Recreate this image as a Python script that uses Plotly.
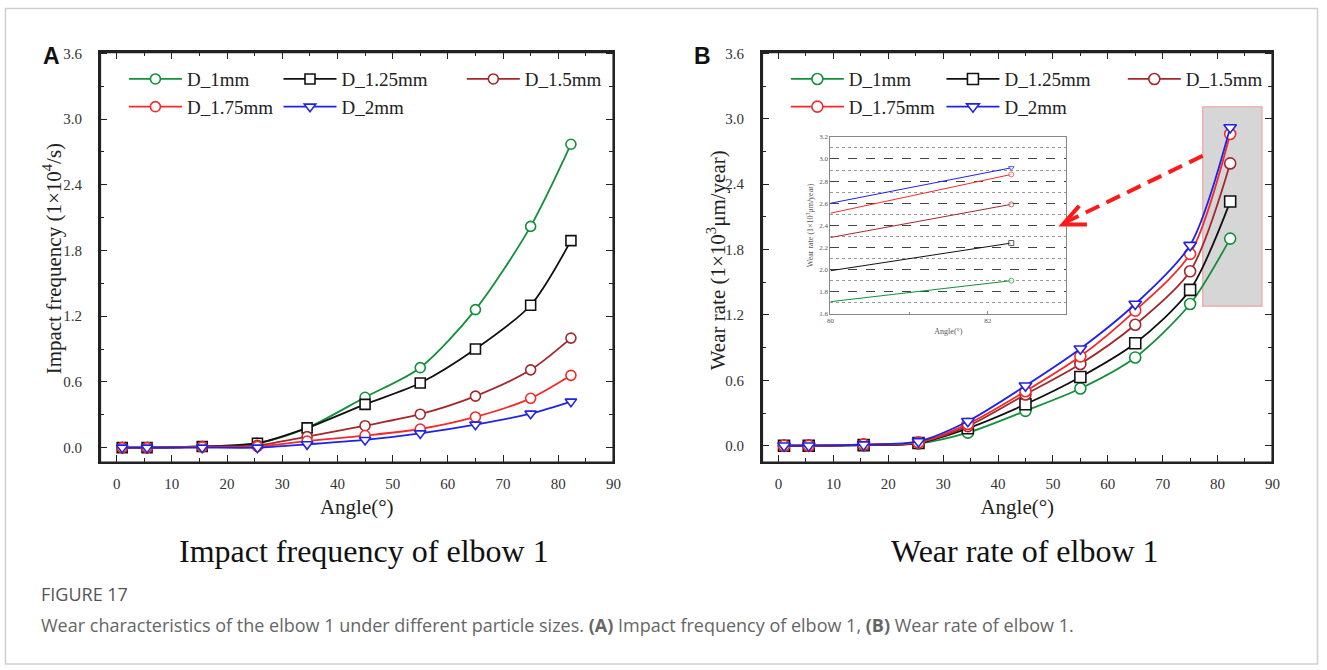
import plotly.graph_objects as go

W, H = 1327, 670

# ---------------- data ----------------
angles = [1, 5.5, 15.5, 25.5, 34.5, 45, 55, 65, 75, 82.3]
series_names = ["D_1mm", "D_1.25mm", "D_1.5mm", "D_1.75mm", "D_2mm"]

impact_d1 = [0, 0, 0.01, 0.04, 0.18, 0.46, 0.73, 1.26, 2.02, 2.77]
impact_d125 = [0, 0, 0.01, 0.04, 0.18, 0.395, 0.59, 0.90, 1.30, 1.89]
impact_d15 = [0, 0, 0.01, 0.02, 0.10, 0.20, 0.305, 0.47, 0.71, 1.00]
impact_d175 = [0, 0, 0.005, 0.01, 0.06, 0.11, 0.17, 0.28, 0.45, 0.66]
impact_d2 = [0, 0, 0, 0.0, 0.03, 0.07, 0.13, 0.21, 0.31, 0.42]

wear_d1 = [0, 0, 0.005, 0.02, 0.12, 0.32, 0.525, 0.81, 1.30, 1.90]
wear_d125 = [0, 0, 0.005, 0.025, 0.16, 0.38, 0.63, 0.94, 1.43, 2.24]
wear_d15 = [0, 0, 0.01, 0.03, 0.18, 0.47, 0.75, 1.11, 1.60, 2.59]
wear_d175 = [0, 0, 0.01, 0.03, 0.20, 0.50, 0.82, 1.24, 1.76, 2.86]
wear_d2 = [0, 0, 0.01, 0.04, 0.225, 0.55, 0.89, 1.30, 1.84, 2.92]

# inset (zoom of the 80-83 degree region of wear rate)
inset_angles = [80, 82.3]
inset_start = [1.71, 1.99, 2.29, 2.51, 2.60]

impact = [impact_d1, impact_d125, impact_d15, impact_d175, impact_d2]
wear = [wear_d1, wear_d125, wear_d15, wear_d175, wear_d2]

# ---------------- styles ----------------
colors = ["#12903a", "#111111", "#a3282c", "#f22a2a", "#1f23e6"]
symbols = ["circle", "square", "circle", "circle", "triangle-down"]
SERIF = "Liberation Serif"
legend_of_A = ["legend", "legend2", "legend3", "legend", "legend2"]
legend_of_B = ["legend4", "legend5", "legend6", "legend4", "legend5"]

fig = go.Figure()

for i, name in enumerate(series_names):
    fig.add_trace(go.Scatter(
        x=angles, y=impact[i], name=name, mode="lines+markers",
        line=dict(color=colors[i], width=1.8, shape="spline", smoothing=0.8),
        marker=dict(symbol=symbols[i], size=10, color="white",
                    line=dict(color=colors[i], width=1.6)),
        xaxis="x", yaxis="y", legend=legend_of_A[i]))

for i, name in enumerate(series_names):
    fig.add_trace(go.Scatter(
        x=angles, y=wear[i], name=name, mode="lines+markers",
        line=dict(color=colors[i], width=1.8, shape="spline", smoothing=0.8),
        marker=dict(symbol=symbols[i], size=11, color="white",
                    line=dict(color=colors[i], width=1.6)),
        xaxis="x2", yaxis="y2", legend=legend_of_B[i]))

for i, name in enumerate(series_names):
    fig.add_trace(go.Scatter(
        x=inset_angles, y=[inset_start[i], wear[i][-1]], name=name,
        mode="lines+markers", showlegend=False,
        line=dict(color=colors[i], width=1),
        marker=dict(symbol=symbols[i], size=[0, 5], color="white",
                    line=dict(color=colors[i], width=1)),
        xaxis="x3", yaxis="y3"))

# ---------------- axes ----------------
def px_x(p):
    return p / W

def px_y(p):
    return 1 - p / H

ax_common = dict(
    showline=True, mirror="all", linecolor="#222", linewidth=2,
    ticks="inside", ticklen=7, tickwidth=1.4, tickcolor="#222",
    showgrid=False, zeroline=False,
    tickfont=dict(family=SERIF, size=15, color="#333"),
)

xdomA = [px_x(97), px_x(615)]
xdomB = [px_x(765), px_x(1280)]
ydom = [px_y(463), px_y(46)]

xa = dict(ax_common, range=[-3, 90], dtick=10, tick0=0,
          minor=dict(dtick=5, ticks="inside", ticklen=4, tickcolor="#222", tickwidth=1.2),
          title=dict(text="Angle(°)", font=dict(family=SERIF, size=21, color="#222"), standoff=8),
          ticklabelstandoff=7)
ya = dict(ax_common, dtick=0.6, tick0=0, tickformat=".1f",
          minor=dict(dtick=0.3, ticks="inside", ticklen=4, tickcolor="#222", tickwidth=1.2),
          ticklabelstandoff=13)

fig.update_layout(
    xaxis=dict(xa, domain=xdomA, anchor="y"),
    yaxis=dict(ya, domain=ydom, anchor="x", range=[-0.135, 3.61]),
    xaxis2=dict(xa, domain=xdomB, anchor="y2"),
    yaxis2=dict(ya, domain=ydom, anchor="x2", range=[-0.153, 3.61]),
    xaxis3=dict(domain=[px_x(834), px_x(1072)], anchor="y3", range=[80, 83],
                dtick=2, tick0=80, showline=True, mirror=True, linecolor="#888",
                linewidth=1, ticks="inside", ticklen=3, tickcolor="#888",
                minor=dict(dtick=1, ticks="inside", ticklen=2, tickcolor="#888"),
                showgrid=False, zeroline=False,
                tickfont=dict(family=SERIF, size=7, color="#555"),
                title=dict(text="Angle(°)", font=dict(family=SERIF, size=8, color="#555"),
                           standoff=4)),
    yaxis3=dict(domain=[px_y(312), px_y(132)], anchor="x3", range=[1.6, 3.2],
                dtick=0.2, tick0=1.6, tickformat=".1f", showline=True, mirror=True,
                linecolor="#888", linewidth=1, ticks="", zeroline=False,
                showgrid=True, gridcolor="#444", griddash="dash", gridwidth=1,
                minor=dict(dtick=0.1, showgrid=True, gridcolor="#999", griddash="dot"),
                tickfont=dict(family=SERIF, size=7, color="#555"),
                title=dict(text="Wear rate (1×10<sup>3</sup>μm/year)",
                           font=dict(family=SERIF, size=8, color="#555"), standoff=4)),
)

# ---------------- legends ----------------
leg_font = dict(family=SERIF, size=19, color="#222")
leg_top = px_y(54)
leg_cols = {"legend": 122, "legend2": 278, "legend3": 463,
            "legend4": 790, "legend5": 947, "legend6": 1130}
for key, xpix in leg_cols.items():
    fig.update_layout({key: dict(x=px_x(xpix - 1), y=leg_top, xanchor="left", yanchor="top",
                                 orientation="v", bgcolor="rgba(0,0,0,0)", font=leg_font,
                                 itemwidth=53, tracegroupgap=0)})

# ---------------- decorations ----------------
shapes = [
    # highlight box on B
    dict(type="rect", xref="x2", yref="y2", x0=77.3, x1=88.1, y0=1.28, y1=3.11,
         fillcolor="#d6d6d6", line=dict(color="#f4a0a0", width=1.2), layer="below"),
    # dashed arrow body
    dict(type="line", xref="x2", yref="y2", x0=77.3, y0=2.66, x1=52.3, y1=2.05,
         line=dict(color="#ff1a1a", width=4, dash="15px,8px")),
    # arrow head
    dict(type="path", xref="x2", yref="y2",
         path="M 54.8 2.20 L 51.8 2.03 L 56.2 2.03",
         line=dict(color="#ff1a1a", width=4)),
    # plot frames (paper coordinates)
    dict(type="rect", xref="paper", yref="paper", x0=xdomA[0], x1=xdomA[1],
         y0=ydom[0], y1=ydom[1], line=dict(color="#222", width=2)),
    dict(type="rect", xref="paper", yref="paper", x0=xdomB[0], x1=xdomB[1],
         y0=ydom[0], y1=ydom[1], line=dict(color="#222", width=2)),
    # card border
    dict(type="rect", xref="paper", yref="paper", x0=px_x(1.5), x1=px_x(1325.5),
         y0=px_y(668), y1=px_y(1.5), line=dict(color="#cfcfcf", width=1.5)),
]

def ann(text, xp, yp, size, family=SERIF, color="#111", xanchor="center", angle=0):
    return dict(text=text, x=px_x(xp), y=px_y(yp), xref="paper", yref="paper",
                xanchor=xanchor, yanchor="middle", showarrow=False, textangle=angle,
                font=dict(family=family, size=size, color=color))

annotations = [
    ann("<b>A</b>", 48, 50, 23, family="Liberation Sans"),
    ann("<b>B</b>", 705, 50, 23, family="Liberation Sans"),
    ann("Impact frequency (1×10<sup>4</sup>/s)", 49, 256, 21, color="#222", angle=-90),
    ann("Wear rate (1×10<sup>3</sup>μm/year)", 719, 257, 21, color="#222", angle=-90),
    ann("Impact frequency of elbow 1", 363, 553, 32),
    ann("Wear rate of elbow 1", 1030, 553, 32),
    ann("FIGURE 17", 35, 597, 18, family="Open Sans", color="#555", xanchor="left"),
    ann("Wear characteristics of the elbow 1 under different particle sizes. "
        "<b>(A)</b> Impact frequency of elbow 1, <b>(B)</b> Wear rate of elbow 1.",
        35, 628, 18, family="Open Sans", color="#666", xanchor="left"),
]

fig.update_layout(
    width=W, height=H, margin=dict(l=0, r=0, t=0, b=0),
    paper_bgcolor="white", plot_bgcolor="white",
    shapes=shapes, annotations=annotations,
)

fig.write_html("out.html")
